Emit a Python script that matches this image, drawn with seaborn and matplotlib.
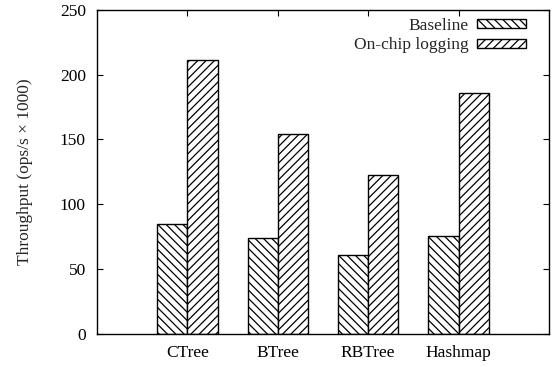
import matplotlib
matplotlib.use("Agg")
import matplotlib.pyplot as plt
import seaborn as sns
import pandas as pd

# Throughput per data structure, in thousands of ops/s
structures = ["CTree", "BTree", "RBTree", "Hashmap"]
baseline = [85, 73.5, 60.5, 75]
onchip = [211.5, 154.5, 122.5, 186]
series = ["Baseline", "On-chip logging"]
yticks = [0, 50, 100, 150, 200, 250]

df = pd.DataFrame({
    "structure": structures * 2,
    "config": [series[0]] * len(structures) + [series[1]] * len(structures),
    "throughput": baseline + onchip,
})

sns.set_theme(style="white")
plt.rcParams["font.family"] = ["Liberation Serif", "DejaVu Serif"]
plt.rcParams["hatch.linewidth"] = 0.9

FS = 12.5

fig = plt.figure(figsize=(5.59, 3.67), dpi=100)
ax = fig.add_axes([97 / 559, 1 - 333.5 / 367, (549 - 97) / 559, (333.5 - 10) / 367])

sns.barplot(data=df, x="structure", y="throughput", hue="config",
            order=structures, hue_order=series, palette=["white", "white"],
            width=0.67, saturation=1, edgecolor="black", linewidth=1.0,
            errorbar=None, ax=ax)

hatches = ["\\\\\\\\", "////"]
for cont, h in zip(ax.containers, hatches):
    for bar in cont:
        bar.set_hatch(h)
        bar.set_edgecolor("black")
        bar.set_facecolor("white")

ax.set_xlim(-1, 4)
ax.set_ylim(0, 250)
ax.set_yticks(yticks)
ax.set_xlabel("")
ax.set_ylabel("Throughput (ops/s × 1000)", fontsize=FS, labelpad=19)

for s in ax.spines.values():
    s.set_visible(True)
    s.set_color("black")
    s.set_linewidth(1.0)

ax.tick_params(axis="both", direction="in", length=4, width=0.8, color="black",
               labelsize=FS, top=True, right=True, bottom=True, left=True,
               labelcolor="black")
ax.tick_params(axis="y", pad=8)
ax.tick_params(axis="x", pad=8)

handles, labels = ax.get_legend_handles_labels()
for hdl, h in zip(handles, hatches):
    hdl.set_hatch(h)
    hdl.set_edgecolor("black")
    hdl.set_facecolor("white")
leg = ax.legend(handles, labels, loc="upper right", bbox_to_anchor=(526 / 559, 1 - 18 / 367),
                bbox_transform=fig.transFigure, frameon=False, markerfirst=False,
                fontsize=FS, handlelength=2.8, handleheight=0.4,
                handletextpad=0.5, labelspacing=0.2, borderaxespad=0, borderpad=0)

fig.savefig("out.png", dpi=100)
